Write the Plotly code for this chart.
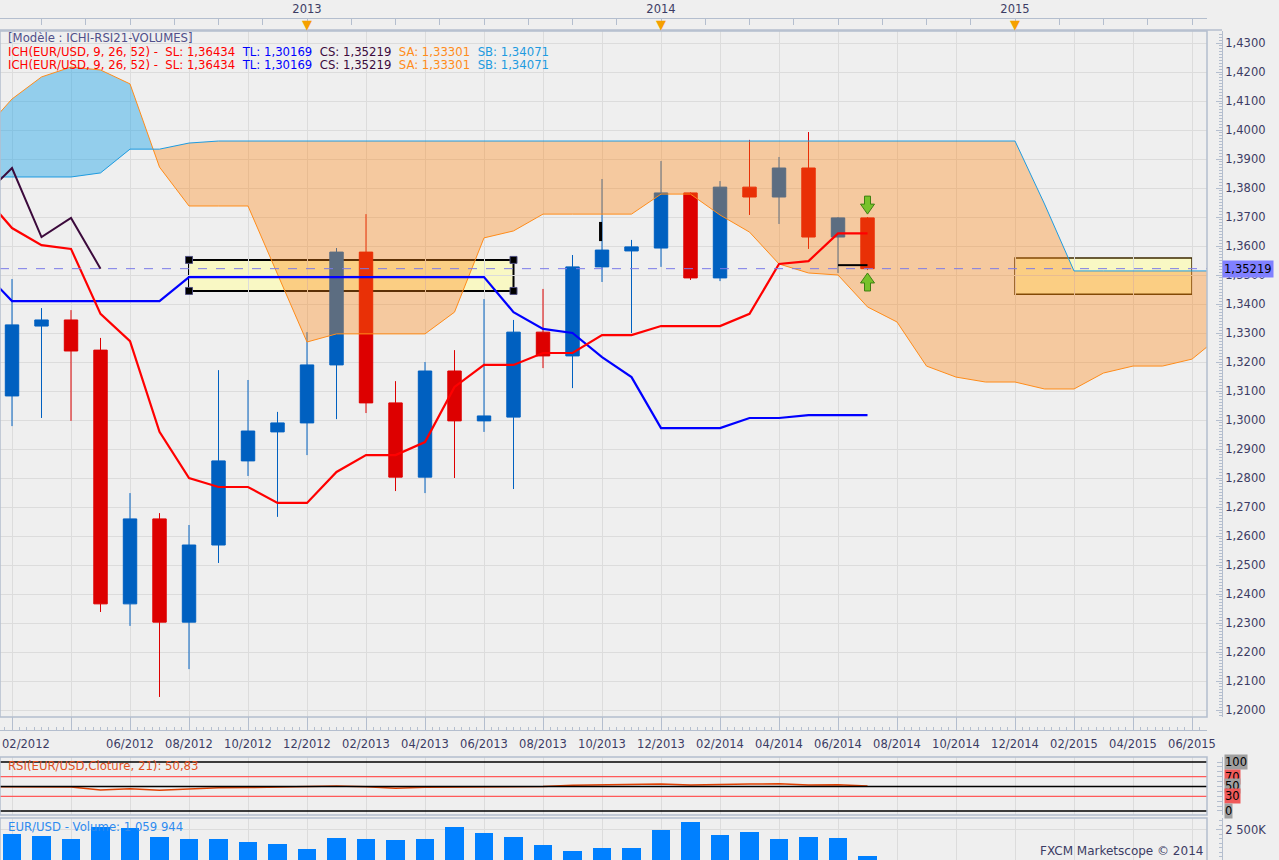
import pandas as pd
import plotly.graph_objects as go

# month axis: 01/2012 .. 07/2015 (cloud is projected 26 months ahead)
MONTHS = list(pd.date_range("2012-01-01", periods=43, freq="MS").strftime("%m/%Y"))
CANDLE_MONTHS = MONTHS[1:31]   # 02/2012 .. 07/2014
LINE_MONTHS = MONTHS[0:31]     # 01/2012 .. 07/2014

OPEN = [1.3083, 1.3324, 1.3345, 1.3241, 1.2366, 1.2659, 1.2303, 1.2569, 1.2859, 1.2959,
        1.2990, 1.3190, 1.3579, 1.3059, 1.2803, 1.3169, 1.2997, 1.3010, 1.3303, 1.3221,
        1.3528, 1.3583, 1.3593, 1.3783, 1.3490, 1.3803, 1.3769, 1.3869, 1.3631, 1.3697]
HIGH = [1.3486, 1.3386, 1.3379, 1.3283, 1.2748, 1.2679, 1.2638, 1.3172, 1.3138, 1.3028,
        1.3303, 1.3593, 1.3710, 1.3134, 1.3200, 1.3241, 1.3417, 1.3345, 1.3452, 1.3569,
        1.3831, 1.3621, 1.3893, 1.3785, 1.3824, 1.3966, 1.3907, 1.3993, 1.3700, 1.3700]
LOW = [1.2979, 1.3007, 1.2997, 1.2338, 1.2290, 1.2045, 1.2141, 1.2507, 1.2807, 1.2666,
       1.2879, 1.3003, 1.3024, 1.2755, 1.2748, 1.2800, 1.2959, 1.2762, 1.3179, 1.3110,
       1.3476, 1.3300, 1.3528, 1.3483, 1.3479, 1.3707, 1.3676, 1.3590, 1.3507, 1.3517]
CLOSE = [1.3328, 1.3345, 1.3238, 1.2366, 1.2659, 1.2303, 1.2569, 1.2859, 1.2962, 1.2990,
         1.3190, 1.3579, 1.3059, 1.2803, 1.3169, 1.2997, 1.3014, 1.3303, 1.3221, 1.3528,
         1.3586, 1.3597, 1.3783, 1.3490, 1.3803, 1.3769, 1.3869, 1.3631, 1.3697, 1.35219]
VOLUME = [2270000, 2160000, 1993000, 2658000, 2602000, 2104000, 1993000, 1993000, 1827000, 1716000,
          1440000, 2049000, 1993000, 1938000, 1993000, 2658000, 2326000, 2104000, 1661000, 1329000,
          1495000, 1495000, 2492000, 2935000, 2215000, 2381000, 1993000, 2104000, 2049000, 1059944]

# ichimoku lines (01/2012 .. 07/2014)
SL = [1.3779, 1.3662, 1.3603, 1.3590, 1.3366, 1.3272, 1.2959, 1.2800, 1.2769, 1.2769,
      1.2714, 1.2714, 1.2821, 1.2879, 1.2879, 1.2924, 1.3114, 1.3190, 1.3190, 1.3231,
      1.3231, 1.3293, 1.3293, 1.3324, 1.3324, 1.3324, 1.3366, 1.3538, 1.3548, 1.36434, 1.36434]
TL = [1.3517, 1.3410, 1.3410, 1.3410, 1.3410, 1.3410, 1.3410, 1.3493, 1.3493, 1.3493,
      1.3493, 1.3493, 1.3493, 1.3493, 1.3493, 1.3493, 1.3493, 1.3493, 1.3372, 1.3314,
      1.3300, 1.3217, 1.3148, 1.2972, 1.2972, 1.2972, 1.3007, 1.3007, 1.30169, 1.30169, 1.30169]
# cloud spans (01/2012 .. 07/2015)
SA = [1.3993, 1.4107, 1.4183, 1.4217, 1.4207, 1.4159, 1.3872, 1.3738, 1.3738, 1.3738,
      1.3503, 1.3269, 1.3297, 1.3297, 1.3297, 1.3297, 1.3372, 1.3628, 1.3652, 1.3710,
      1.3710, 1.3710, 1.3710, 1.3779, 1.3779, 1.3707, 1.3648, 1.3538, 1.3507, 1.3500,
      1.3390, 1.3338, 1.3186, 1.3148, 1.3131, 1.3131, 1.3107, 1.3107, 1.3162, 1.3186,
      1.3186, 1.3210, 1.3293]
SB = [1.3838, 1.3838, 1.3838, 1.3838, 1.3852, 1.3934, 1.3934, 1.3955, 1.3962, 1.3962,
      1.3962, 1.3962, 1.3962, 1.3962, 1.3962, 1.3962, 1.3962, 1.3962, 1.3962, 1.3962,
      1.3962, 1.3962, 1.3962, 1.3962, 1.3962, 1.3962, 1.3962, 1.3962, 1.3962, 1.3962,
      1.3962, 1.3962, 1.3962, 1.3962, 1.3962, 1.3962, 1.3745, 1.3514, 1.3514, 1.3514,
      1.3514, 1.3514, 1.3514]
RSI = [49.6, 49.6, 49.6, 49.0, 43.0, 45.5, 42.5, 45.0, 47.5, 47.8,
       48.5, 49.5, 51.0, 49.5, 46.5, 48.5, 49.0, 49.3, 50.3, 50.0,
       52.5, 53.0, 53.0, 55.0, 53.0, 54.5, 55.0, 55.5, 53.0, 53.5, 50.83]
RSI_LEVELS = [100, 70, 50, 30, 0]
SHIFT = 26

# drawings on the chart
ZONES = [("08/2012", "07/2013", 1.3445, 1.3552), ("12/2014", "06/2015", 1.3434, 1.3559)]
SIGNAL_DOWN = ("07/2014", 1.3741)
SIGNAL_UP = ("07/2014", 1.3476)
MARK_V = ("10/2013", 1.3617, 1.3683)
MARK_H = ("06/2014", "07/2014", 1.3534)

W, H = 1279, 860
FONT = "DejaVu Sans"
TXT = "#3c3c64"
FRAME = "#b4bece"
GRID = "#dcdcdc"
TICK_SIZE = 11.5


def px_x(p):
    return p / W


def px_y(p):
    return (H - p) / H


idx = {m: i for i, m in enumerate(MONTHS)}
cx = [idx[m] for m in CANDLE_MONTHS]
lx = [idx[m] for m in LINE_MONTHS]
allx = list(range(len(MONTHS)))

X_RANGE = [0.593, 41.508]
X_DOM = [0, px_x(1207)]
Y_RANGE = [1.19759, 1.43414]
Y_DOM = [px_y(717), px_y(31)]
AXIS_POS = px_x(1222)


def cloud(xs, a, b):
    # add the crossing points so both colours stop where the spans cross
    px, pa, pb = [xs[0]], [a[0]], [b[0]]
    for i in range(1, len(xs)):
        d0, d1 = a[i - 1] - b[i - 1], a[i] - b[i]
        if d0 * d1 < 0:
            t = d0 / (d0 - d1)
            yc = a[i - 1] + t * (a[i] - a[i - 1])
            px.append(xs[i - 1] + t * (xs[i] - xs[i - 1]))
            pa.append(yc)
            pb.append(yc)
        px.append(xs[i])
        pa.append(a[i])
        pb.append(b[i])
    top = [max(u, v) for u, v in zip(pa, pb)]
    return px, pa, pb, top


def block_arrow(xc, yc, up):
    sx = (X_RANGE[1] - X_RANGE[0]) / (W * (X_DOM[1] - X_DOM[0]))
    sy = (Y_RANGE[1] - Y_RANGE[0]) / (H * (Y_DOM[1] - Y_DOM[0]))
    pts = [(-3, 9), (3, 9), (3, 1), (7, 1), (0, -9), (-7, 1), (-3, 1)]
    k = -1 if up else 1
    path = "M" + " L".join(f"{xc + dx * sx},{yc + k * dy * sy}" for dx, dy in pts) + " Z"
    return dict(type="path", path=path, xref="x", yref="y", fillcolor="#78c22a",
                line=dict(color="#3e7f12", width=1), layer="above")


fig = go.Figure()

fig.add_trace(go.Candlestick(
    x=cx, open=OPEN, high=HIGH, low=LOW, close=CLOSE, whiskerwidth=0,
    increasing=dict(line=dict(color="#0060c0", width=1), fillcolor="#0060c0"),
    decreasing=dict(line=dict(color="#dd0000", width=1), fillcolor="#dd0000"),
    showlegend=False, hoverinfo="skip"))

px, pa, pb, top = cloud(allx, SA, SB)
fig.add_trace(go.Scatter(x=px, y=pb, mode="lines", line=dict(width=0), showlegend=False, hoverinfo="skip"))
fig.add_trace(go.Scatter(x=px, y=top, mode="lines", line=dict(width=0), fill="tonexty",
                         fillcolor="rgba(20,160,230,0.42)", showlegend=False, hoverinfo="skip"))
fig.add_trace(go.Scatter(x=px, y=pa, mode="lines", line=dict(width=0), showlegend=False, hoverinfo="skip"))
fig.add_trace(go.Scatter(x=px, y=top, mode="lines", line=dict(width=0), fill="tonexty",
                         fillcolor="rgba(255,132,17,0.36)", showlegend=False, hoverinfo="skip"))
fig.add_trace(go.Scatter(x=allx, y=SA, mode="lines", line=dict(color="#ff8c1a", width=1), showlegend=False))
fig.add_trace(go.Scatter(x=allx, y=SB, mode="lines", line=dict(color="#1e9be0", width=1), showlegend=False))

# chikou: close plotted 26 months back
cs_x = [x - SHIFT for x in cx if x - SHIFT >= 0]
cs_y = [c for x, c in zip(cx, CLOSE) if x - SHIFT >= 0]
fig.add_trace(go.Scatter(x=cs_x, y=cs_y, mode="lines", line=dict(color="#3c0a3c", width=2), showlegend=False))
fig.add_trace(go.Scatter(x=lx, y=TL, mode="lines", line=dict(color="#0000ff", width=2.2), showlegend=False))
fig.add_trace(go.Scatter(x=lx, y=SL, mode="lines", line=dict(color="#ff0000", width=2.2), showlegend=False))

# small black marks
fig.add_trace(go.Scatter(x=[idx[MARK_V[0]] - 0.05] * 2, y=[MARK_V[1], MARK_V[2]], mode="lines",
                         line=dict(color="black", width=3), showlegend=False))
fig.add_trace(go.Scatter(x=[idx[MARK_H[0]], idx[MARK_H[1]]], y=[MARK_H[2]] * 2, mode="lines",
                         line=dict(color="black", width=2), showlegend=False))

# handles of the selected zone
z0 = ZONES[0]
fig.add_trace(go.Scatter(x=[idx[z0[0]], idx[z0[0]], idx[z0[1]], idx[z0[1]]],
                         y=[z0[2], z0[3], z0[2], z0[3]], mode="markers",
                         marker=dict(symbol="square", size=7, color="black",
                                     line=dict(color="#505080", width=1)), showlegend=False))

# year markers axis
year_pos = [idx["01/" + y] - 1 for y in ["2013", "2014", "2015"]]
fig.add_trace(go.Scatter(x=year_pos, y=[None] * 3, xaxis="x2", yaxis="y", showlegend=False, hoverinfo="skip"))

# rsi
fig.add_trace(go.Scatter(x=lx, y=RSI, mode="lines", line=dict(color="#e04000", width=1.5),
                         xaxis="x", yaxis="y2", showlegend=False))
# volume
fig.add_trace(go.Bar(x=cx, y=VOLUME, width=0.64, marker=dict(color="#0080ff", line=dict(width=0)),
                     xaxis="x", yaxis="y3", showlegend=False))

shapes = []
for i, (m0, m1, lo, hi) in enumerate(ZONES):
    shapes.append(dict(type="rect", xref="x", yref="y", x0=idx[m0], x1=idx[m1], y0=lo, y1=hi,
                       fillcolor="#f9f8c4", layer="below",
                       line=dict(color="black" if i == 0 else "#3c2800", width=2 if i == 0 else 1.5)))
shapes.append(dict(type="line", xref="x domain", yref="y", x0=0, x1=1, y0=CLOSE[-1], y1=CLOSE[-1],
                   line=dict(color="#7b7be8", width=1, dash="dash"), layer="above"))
shapes.append(block_arrow(idx[SIGNAL_DOWN[0]], SIGNAL_DOWN[1], False))
shapes.append(block_arrow(idx[SIGNAL_UP[0]], SIGNAL_UP[1], True))
for lv in RSI_LEVELS:
    col = "#ff5a5a" if lv in (30, 70) else "black"
    shapes.append(dict(type="line", xref="x domain", yref="y2", x0=0, x1=1, y0=lv, y1=lv,
                       line=dict(color=col, width=1.3)))
# panel frames
for y0, y1 in [(717, 31), (815, 757), (870, 818)]:
    shapes.append(dict(type="rect", xref="paper", yref="paper", x0=0, x1=X_DOM[1],
                       y0=px_y(y0), y1=px_y(y1), line=dict(color=FRAME, width=1.5)))
shapes.append(dict(type="line", xref="paper", yref="paper", x0=0, x1=AXIS_POS,
                   y0=px_y(30), y1=px_y(30), line=dict(color=FRAME, width=1.5)))

ann = []


def note(text, x, y, color, size=11.7, xanchor="left"):
    ann.append(dict(text=text, x=px_x(x), y=px_y(y), xref="paper", yref="paper", showarrow=False,
                    xanchor=xanchor, yanchor="middle", font=dict(family=FONT, size=size, color=color)))


def fmt(v):
    return f"{v:.5f}".replace(".", ",")


sp = "\u00a0"
head = (f'<span style="color:#ff0000">ICH(EUR/USD, 9, 26, 52) -{sp}{sp}SL: {fmt(SL[-1])}</span>{sp}{sp}'
        f'<span style="color:#0000ff">TL: {fmt(TL[-1])}</span>{sp}{sp}'
        f'<span style="color:#3c0a3c">CS: {fmt(CLOSE[-1])}</span>{sp}{sp}'
        f'<span style="color:#ff8c1a">SA: 1,33301</span>{sp}{sp}'
        f'<span style="color:#1e9be0">SB: 1,34071</span>')
note("[Modèle : ICHI-RSI21-VOLUMES]", 6, 38, "#50508a")
note(head, 6, 52, "#ff0000")
note(head, 6, 65, "#ff0000")
note(f"RSI(EUR/USD.Cloture, 21): {RSI[-1]:.2f}".replace(".", ","), 6, 766, "#e0501e")
vol_txt = f"{VOLUME[-1]:,}".replace(",", " ")
note(f"EUR/USD - Volume: {vol_txt}", 6, 827, "#2e8bef")
note("FXCM Marketscope © 2014", 1205, 851, TXT, 12, "right")
note(MONTHS[1], 0, 744, TXT, TICK_SIZE)
for y in year_pos:
    ann.append(dict(text="▼", x=y, y=px_y(24), xref="x", yref="paper", showarrow=False,
                    font=dict(family=FONT, size=13, color="#f5a000"), yanchor="middle"))
ann.append(dict(text=fmt(CLOSE[-1]), x=AXIS_POS, y=CLOSE[-1], xref="paper", yref="y", showarrow=False,
                xanchor="left", yanchor="middle", bgcolor="#8080ff", borderpad=1,
                font=dict(family=FONT, size=TICK_SIZE, color="black")))
for lv in RSI_LEVELS:
    ann.append(dict(text=str(lv), x=px_x(1224), y=lv, xref="paper", yref="y2", showarrow=False,
                    xanchor="left", yanchor="middle", borderpad=0,
                    bgcolor="#f05a5a" if lv in (30, 70) else "#a0a0a0",
                    font=dict(family=FONT, size=TICK_SIZE, color="black")))

tickvals = list(range(1, len(MONTHS) - 1, 2))
ticktext = ["" if v in (1, 3) else MONTHS[v] for v in tickvals]
top_vals = [2 + 1.5 * k for k in range(27)]
top_text = [str(2013 + year_pos.index(v)) if v in year_pos else "" for v in top_vals]

fig.update_layout(
    width=W, height=H, margin=dict(l=0, r=0, t=0, b=0, autoexpand=False),
    paper_bgcolor="#efefef", plot_bgcolor="#efefef",
    separators=", ", showlegend=False, boxgap=0.35, bargap=0,
    font=dict(family=FONT, size=11, color=TXT),
    shapes=shapes, annotations=ann,
    xaxis=dict(domain=X_DOM, range=X_RANGE, anchor="free", position=px_y(730), automargin=False,
               tickmode="array", tickvals=tickvals, ticktext=ticktext,
               ticks="inside", ticklen=13, tickcolor=FRAME, showline=True, linecolor=FRAME,
               showgrid=True, gridcolor=GRID, zeroline=False, ticklabelstandoff=3,
               tickfont=dict(size=TICK_SIZE, color=TXT), rangeslider=dict(visible=False),
               minor=dict(tickmode="linear", tick0=0, dtick=0.25, ticks="inside", ticklen=3,
                          tickcolor=FRAME, showgrid=False)),
    xaxis2=dict(overlaying="x", side="top", anchor="free", position=px_y(18), range=X_RANGE,
                automargin=False, tickmode="array", tickvals=top_vals, ticktext=top_text,
                ticks="inside", ticklen=6, tickcolor=FRAME, showline=True, linecolor=FRAME,
                showgrid=False, zeroline=False, tickfont=dict(size=TICK_SIZE, color=TXT)),
    yaxis=dict(domain=Y_DOM, range=Y_RANGE, anchor="free", position=AXIS_POS, side="right",
               automargin=False, tick0=1.2, dtick=0.01, tickformat=".4f", ticks="inside", ticklen=6,
               tickcolor=FRAME, showline=True, linecolor=FRAME, showgrid=True, gridcolor=GRID,
               zeroline=False, tickfont=dict(size=TICK_SIZE, color=TXT),
               minor=dict(dtick=0.001, ticks="inside", ticklen=3, tickcolor=FRAME, showgrid=False)),
    yaxis2=dict(domain=[px_y(815), px_y(757)], range=[-8.2, 110.2], anchor="free", position=AXIS_POS,
                side="right", automargin=False, tickvals=list(range(0, 101, 10)), showticklabels=False,
                ticks="inside", ticklen=5, tickcolor=FRAME, showline=True, linecolor=FRAME,
                showgrid=False, zeroline=False),
    yaxis3=dict(domain=[0, px_y(818)], range=[830000, 3156000], anchor="free", position=AXIS_POS,
                side="right", automargin=False, tickvals=[2500000], ticktext=["2 500K"], ticks="inside",
                ticklen=6, tickcolor=FRAME, showline=True, linecolor=FRAME, showgrid=True, gridcolor=GRID,
                zeroline=False, tickfont=dict(size=TICK_SIZE, color=TXT),
                minor=dict(dtick=250000, ticks="inside", ticklen=3, tickcolor=FRAME, showgrid=False)),
)

# the page body has a default 8px margin; drop it so the chart sits at the window corner
fig.write_html("out.html", config={"displayModeBar": False},
               post_script="document.body.style.margin='0';")
